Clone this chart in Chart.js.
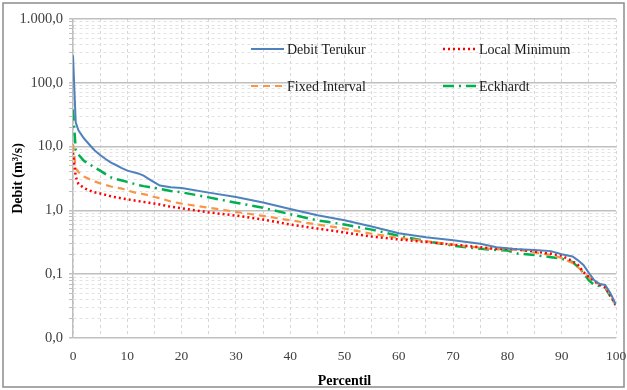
<!DOCTYPE html>
<html>
<head>
<meta charset="utf-8">
<script src="https://cdn.jsdelivr.net/npm/chart.js@4/dist/chart.umd.min.js"></script>
<style>
  html, body { margin: 0; padding: 0; background: #fff; }
  #wrap { width: 627px; height: 390px; }
</style>
</head>
<body>
<div id="wrap"><canvas id="chart" width="627" height="390"></canvas></div>
<script>
// Persentil (sumbu x) - dipakai bersama oleh semua seri
const percentil = [0, 0.5, 1, 2, 3, 4, 5, 6, 7, 8, 9, 10, 12, 13, 14, 15, 16, 18, 20, 25,
                   30, 35, 40, 45, 50, 55, 60, 65, 70, 75, 78, 80, 82, 85, 88, 90, 92, 93, 94, 95,
                   96, 97, 98, 99, 100];

// Debit (m3/s) untuk tiap seri
const debitTerukur = [270, 24, 18, 13.5, 10.8, 8.7, 7.4, 6.4, 5.6, 5.1, 4.6, 4.2, 3.8, 3.5, 3.1, 2.75, 2.45, 2.3, 2.25, 1.9,
                      1.62, 1.33, 1.05, 0.84, 0.7, 0.56, 0.44, 0.38, 0.34, 0.3, 0.265, 0.255, 0.245, 0.24, 0.23, 0.205, 0.19, 0.165, 0.14, 0.105,
                      0.08, 0.07, 0.068, 0.05, 0.033];
const localMinimum = [8, 3.4, 2.6, 2.25, 2.05, 1.92, 1.84, 1.75, 1.66, 1.6, 1.54, 1.49, 1.4, 1.36, 1.32, 1.28, 1.24, 1.14, 1.08, 0.93,
                      0.83, 0.72, 0.6, 0.52, 0.45, 0.39, 0.35, 0.32, 0.29, 0.265, 0.25, 0.25, 0.245, 0.225, 0.21, 0.195, 0.16, 0.14, 0.108, 0.09,
                      0.078, 0.068, 0.062, 0.046, 0.032];
const fixedInterval = [11, 4.6, 4.0, 3.4, 3.1, 2.85, 2.65, 2.5, 2.37, 2.28, 2.2, 2.05, 1.85, 1.8, 1.72, 1.62, 1.55, 1.38, 1.28, 1.1,
                       0.95, 0.82, 0.7, 0.6, 0.52, 0.43, 0.37, 0.33, 0.29, 0.26, 0.245, 0.245, 0.24, 0.22, 0.2, 0.18, 0.15, 0.128, 0.108, 0.09,
                       0.076, 0.07, 0.065, 0.046, 0.032];
const eckhardt = [38, 9, 7.5, 6, 5.3, 4.7, 4.2, 3.7, 3.3, 3.1, 2.95, 2.8, 2.5, 2.4, 2.32, 2.25, 2.18, 2.02, 1.92, 1.6,
                  1.32, 1.1, 0.87, 0.7, 0.6, 0.5, 0.4, 0.33, 0.28, 0.25, 0.24, 0.235, 0.21, 0.2, 0.185, 0.175, 0.155, 0.13, 0.105, 0.08,
                  0.068, 0.065, 0.062, 0.044, 0.033];

const seriesNames = ['Debit Terukur', 'Local Minimum', 'Fixed Interval', 'Eckhardt'];

// Label sumbu y (format Indonesia)
const yDecades = [0.01, 0.1, 1, 10, 100, 1000];
const yTickLabels = ['0,0', '0,1', '1,0', '10,0', '100,0', '1.000,0'];

const FONT = "'Liberation Serif', 'Times New Roman', serif";

// garis grid minor log (2..9 tiap dekade)
const yGridValues = [];
yDecades.forEach((d, i) => {
    if (i === yDecades.length - 1) { yGridValues.push(d); return; }
    for (let k = 1; k <= 9; k++) yGridValues.push(+(d * k).toPrecision(6));
});

function decadeIndex(v) {
    return yDecades.findIndex(d => Math.abs(d - v) / d < 1e-6);
}

function toPoints(vals) {
    return percentil.map((p, i) => ({ x: p, y: vals[i] }));
}

// bingkai luar gambar
const framePlugin = {
    id: 'frame',
    beforeDraw(chart) {
        const c = chart.ctx;
        c.save();
        c.fillStyle = '#fff';
        c.fillRect(0, 0, chart.width, chart.height);
        c.strokeStyle = '#8c8c8c';
        c.lineWidth = 1.5;
        c.strokeRect(3, 3, chart.width - 6, chart.height - 6);
        c.restore();
    }
};

// legenda di dalam area plot, dua kolom
const legendPlugin = {
    id: 'insideLegend',
    afterDraw(chart) {
        const c = chart.ctx;
        const spots = [
            { x: 251, y: 49 },
            { x: 443, y: 49 },
            { x: 251, y: 86 },
            { x: 443, y: 86 }
        ];
        chart.data.datasets.forEach((ds, i) => {
            const s = spots[i];
            c.save();
            c.strokeStyle = ds.borderColor;
            c.lineWidth = ds.borderWidth;
            c.setLineDash(ds.borderDash || []);
            c.beginPath();
            c.moveTo(s.x, s.y);
            c.lineTo(s.x + 33, s.y);
            c.stroke();
            c.restore();
            c.save();
            c.fillStyle = '#1a1a1a';
            c.font = '14px ' + FONT;
            c.textBaseline = 'middle';
            c.fillText(ds.label, s.x + 36, s.y + 1);
            c.restore();
        });
    }
};

new Chart(document.getElementById('chart'), {
    type: 'line',
    data: {
        datasets: [
            {
                label: seriesNames[0],
                data: toPoints(debitTerukur),
                borderColor: '#4f81bd',
                borderWidth: 2,
                pointRadius: 0,
                tension: 0
            },
            {
                label: seriesNames[1],
                data: toPoints(localMinimum),
                borderColor: '#ff0000',
                borderWidth: 2.5,
                borderDash: [2, 3],
                pointRadius: 0,
                tension: 0
            },
            {
                label: seriesNames[2],
                data: toPoints(fixedInterval),
                borderColor: '#f79646',
                borderWidth: 2.2,
                borderDash: [7, 5],
                pointRadius: 0,
                tension: 0
            },
            {
                label: seriesNames[3],
                data: toPoints(eckhardt),
                borderColor: '#00b050',
                borderWidth: 2.5,
                borderDash: [11, 5, 2, 5],
                pointRadius: 0,
                tension: 0
            }
        ]
    },
    options: {
        responsive: false,
        animation: false,
        layout: { padding: { top: 19, right: 0, bottom: 0, left: 0 } },
        plugins: {
            legend: { display: false },
            tooltip: { enabled: false }
        },
        scales: {
            x: {
                type: 'linear',
                min: 0,
                max: 100,
                afterFit(scale) {
                    scale.height = 52;
                    scale.paddingRight = 11;
                    scale.paddingLeft = 0;
                },
                ticks: {
                    stepSize: 5,
                    autoSkip: false,
                    maxRotation: 0,
                    padding: 10,
                    color: '#404040',
                    font: { family: FONT, size: 13.5 },
                    callback: v => (v % 10 === 0 ? String(v) : '')
                },
                grid: {
                    color: '#d6d6d6',
                    lineWidth: 1,
                    drawTicks: false
                },
                border: { display: true, color: 'rgba(0,0,0,0)', dash: [3, 3] },
                title: {
                    display: true,
                    text: 'Percentil',
                    color: '#000',
                    font: { family: FONT, size: 14, weight: 'bold' },
                    padding: { top: 0, bottom: 0 }
                }
            },
            y: {
                type: 'logarithmic',
                min: 0.01,
                max: 1000,
                afterBuildTicks(scale) {
                    scale.ticks = yGridValues.map(v => ({ value: v }));
                },
                afterFit(scale) { scale.width = 73; },
                ticks: {
                    autoSkip: false,
                    padding: 6,
                    color: '#404040',
                    font: { family: FONT, size: 14.5 },
                    callback: v => {
                        const i = decadeIndex(v);
                        return i >= 0 ? yTickLabels[i] : '';
                    }
                },
                grid: {
                    tickLength: 4,
                    color: ctx => (ctx.tick && decadeIndex(ctx.tick.value) >= 0 ? '#bfbfbf' : '#e2e2e2'),
                    lineWidth: ctx => (ctx.tick && decadeIndex(ctx.tick.value) >= 0 ? 1.5 : 1),
                    tickColor: '#bfbfbf'
                },
                border: {
                    color: '#bfbfbf',
                    width: 1.5,
                    dash: ctx => (ctx.tick && decadeIndex(ctx.tick.value) < 0 ? [3, 3] : [])
                },
                title: {
                    display: true,
                    text: 'Debit (m³/s)',
                    color: '#000',
                    font: { family: FONT, size: 14, weight: 'bold' },
                    padding: { top: 10, bottom: 0 }
                }
            }
        }
    },
    plugins: [framePlugin, legendPlugin]
});
</script>
</body>
</html>
